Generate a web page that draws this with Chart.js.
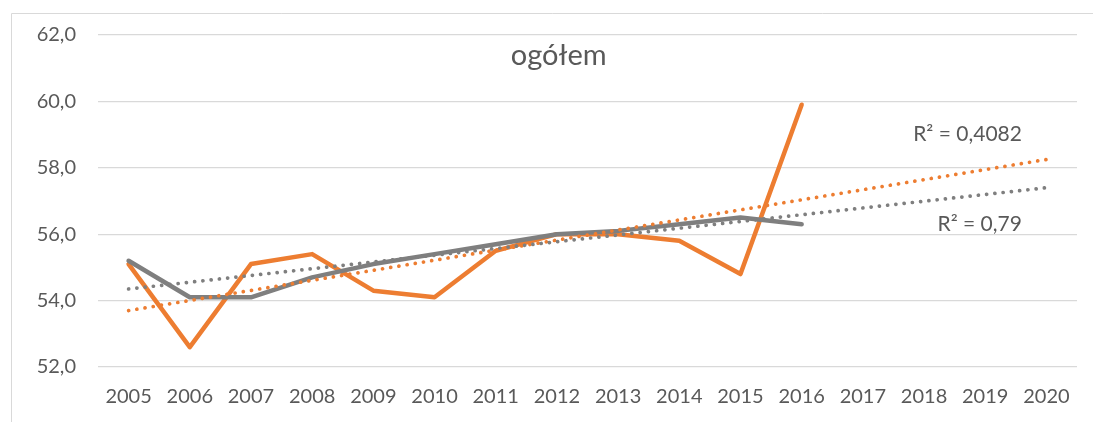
<!DOCTYPE html>
<html>
<head>
<meta charset="utf-8">
<script src="https://cdn.jsdelivr.net/npm/chart.js@4/dist/chart.umd.min.js"></script>
<style>
  html, body { margin: 0; padding: 0; background: #fff; }
  #wrap { width: 1093px; height: 422px; position: relative; }
</style>
</head>
<body>
<div id="wrap"><canvas id="chart" width="1093" height="422"></canvas></div>
<script>
var years = ['2005','2006','2007','2008','2009','2010','2011','2012','2013','2014','2015','2016','2017','2018','2019','2020'];
var orangeValues = [55.1, 52.6, 55.1, 55.4, 54.3, 54.1, 55.5, 56.0, 56.0, 55.8, 54.8, 59.9];
var grayValues = [55.2, 54.1, 54.1, 54.7, 55.1, 55.4, 55.7, 56.0, 56.1, 56.3, 56.5, 56.3];
// trend lines: start (2005) and end (2020)
var orangeTrend = [53.7, null, null, null, null, null, null, null, null, null, null, null, null, null, null, 58.25];
var grayTrend = [54.35, null, null, null, null, null, null, null, null, null, null, null, null, null, null, 57.4];
var yTicks = [52, 54, 56, 58, 60, 62];
var chartTitle = 'ogółem';
var r2Labels = [
    { text: 'R² = 0,4082', at: 14.6, value: 59.0 },
    { text: 'R² = 0,79', at: 14.6, value: 56.3 }
];

var orange = '#ED7D31';
var gray = '#7F7F7F';
var textColor = '#595959';
var fontFamily = 'Lato, "Open Sans", sans-serif';

var extrasPlugin = {
    id: 'extras',
    beforeDraw: function (chart) {
        var ctx = chart.ctx;
        ctx.save();
        ctx.strokeStyle = '#d9d9d9';
        ctx.lineWidth = 1;
        ctx.beginPath();
        ctx.moveTo(11.5, 422);
        ctx.lineTo(11.5, 13.5);
        ctx.lineTo(1093, 13.5);
        ctx.stroke();
        ctx.restore();
    },
    afterDraw: function (chart) {
        var ctx = chart.ctx;
        var xs = chart.scales.x, ys = chart.scales.y;
        ctx.save();
        ctx.fillStyle = textColor;
        ctx.textBaseline = 'middle';
        ctx.textAlign = 'center';
        ctx.font = '29px ' + fontFamily;
        ctx.fillText(chartTitle, xs.getPixelForValue(7.03), 56);
        ctx.textAlign = 'right';
        ctx.font = '21px ' + fontFamily;
        r2Labels.forEach(function (r) {
            ctx.fillText(r.text, xs.getPixelForValue(r.at), ys.getPixelForValue(r.value));
        });
        ctx.restore();
    }
};

new Chart(document.getElementById('chart').getContext('2d'), {
    type: 'line',
    data: {
        labels: years,
        datasets: [{
            label: 'trend orange',
            data: orangeTrend,
            borderColor: orange,
            borderWidth: 3.7,
            borderDash: [0.1, 8.2],
            borderCapStyle: 'round',
            spanGaps: true,
            pointRadius: 0,
            order: 1
        }, {
            label: 'trend gray',
            data: grayTrend,
            borderColor: gray,
            borderWidth: 3.7,
            borderDash: [0.1, 8.2],
            borderCapStyle: 'round',
            spanGaps: true,
            pointRadius: 0,
            order: 0
        }, {
            label: 'orange',
            data: orangeValues,
            borderColor: orange,
            borderWidth: 4.5,
            borderJoinStyle: 'round',
            borderCapStyle: 'round',
            pointRadius: 0,
            tension: 0,
            order: 3
        }, {
            label: 'gray',
            data: grayValues,
            borderColor: gray,
            borderWidth: 4.5,
            borderJoinStyle: 'round',
            borderCapStyle: 'round',
            pointRadius: 0,
            tension: 0,
            order: 2
        }]
    },
    options: {
        responsive: false,
        animation: false,
        layout: { padding: { top: 35, right: 16, bottom: 0, left: 0 } },
        plugins: {
            legend: { display: false },
            title: { display: false },
            tooltip: { enabled: false }
        },
        scales: {
            x: {
                offset: true,
                grid: { display: false, drawTicks: false },
                border: { display: false },
                ticks: {
                    color: textColor,
                    font: { family: fontFamily, size: 20 },
                    padding: 18,
                    maxRotation: 0,
                    autoSkip: false
                },
                afterFit: function (scale) { scale.height = 55; }
            },
            y: {
                min: 52,
                max: 62,
                grid: { color: '#d9d9d9', lineWidth: 1.3, drawTicks: false },
                border: { display: false },
                afterBuildTicks: function (scale) {
                    scale.ticks = yTicks.map(function (v) { return { value: v }; });
                },
                ticks: {
                    color: textColor,
                    font: { family: fontFamily, size: 20 },
                    padding: 22,
                    callback: function (v) { return v.toFixed(1).replace('.', ','); }
                },
                afterFit: function (scale) { scale.width = 98; }
            }
        }
    },
    plugins: [extrasPlugin]
});
</script>
</body>
</html>
